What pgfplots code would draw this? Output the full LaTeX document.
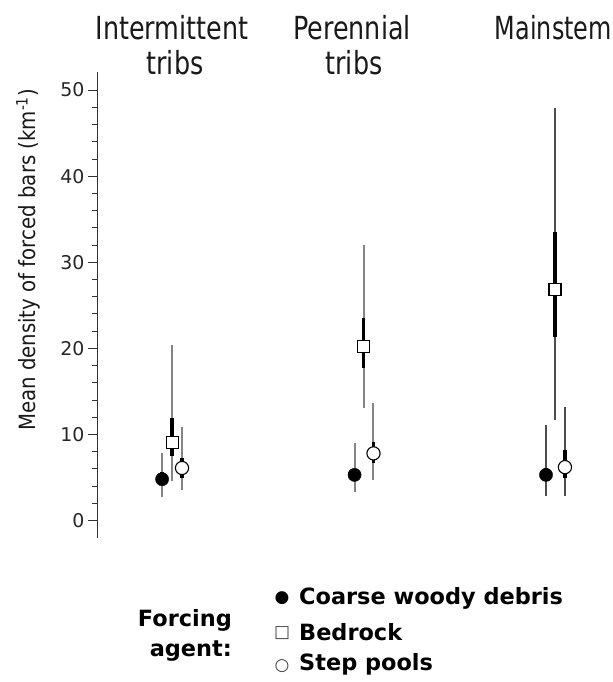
\documentclass[border=0pt]{standalone}
\usepackage{fontspec}
\setmainfont{DejaVu Sans}[FakeStretch=0.88]
\newfontfamily\legfont{DejaVu Sans}
\usepackage{pgfplots}
\pgfplotsset{compat=1.18}
\usepackage{pgfplotstable}

% x = group position (1 Intermittent, 2 Perennial, 3 Mainstem) + offset
% y = mean, lo/hi = thin whisker, tlo/thi = thick whisker
\pgfplotstableread{
x y lo hi tlo thi
0.948 4.8 2.7 7.8 4.2 5.6
1.953 5.3 3.3 9.0 4.6 6.0
2.953 5.3 2.8 11.1 4.6 6.1
}\cwd
\pgfplotstableread{
x y lo hi tlo thi
1.000 9.1 4.6 20.4 7.5 11.9
2.000 20.2 13.1 32.0 17.7 23.5
3.000 26.8 11.7 47.9 21.3 33.5
}\bedrock
\pgfplotstableread{
x y lo hi tlo thi
1.052 6.1 3.5 10.9 4.9 7.3
2.052 7.8 4.7 13.6 6.7 9.1
3.052 6.2 2.8 13.2 4.9 8.2
}\steppools

\pgfplotsset{
  thinbar/.style={only marks, mark=none,
    error bars/y dir=both, error bars/y explicit, error bars/error mark=none,
    error bars/error bar style={line width=2bp, black!48}},
  thinbarB/.style={only marks, mark=none,
    error bars/y dir=both, error bars/y explicit, error bars/error mark=none,
    error bars/error bar style={line width=1.2bp, black!70}},
  thickbar/.style={only marks, mark=none,
    error bars/y dir=both, error bars/y explicit, error bars/error mark=none,
    error bars/error bar style={line width=3.6bp, black}},
}

\begin{document}
\begin{tikzpicture}[x=1bp,y=1bp]
\useasboundingbox (0,0) rectangle (613,682);
\begin{axis}[
  at={(97bp,144bp)}, anchor=south west,
  width=516bp, height=466bp, scale only axis,
  xmin=0.608, xmax=3.303, ymin=-2.03, ymax=52.1,
  axis x line=none, axis y line*=left,
  axis line style={-, line width=0.9bp, black!80},
  ytick={0,10,20,30,40,50}, minor y tick num=4,
  tick align=outside,
  major tick length=9bp, minor tick length=5bp,
  every tick/.style={line width=0.8bp, black!80},
  yticklabel style={font=\legfont\fontsize{19}{22}\selectfont, black!85},
  /pgf/number format/assume math mode=true,
  clip=false,
]
% thin whiskers
\addplot[restrict x to domain=0:2.5, thinbar] table[x=x, y=y, y error plus expr=\thisrow{hi}-\thisrow{y}, y error minus expr=\thisrow{y}-\thisrow{lo}] {\cwd};
\addplot[restrict x to domain=0:2.5, thinbar] table[x=x, y=y, y error plus expr=\thisrow{hi}-\thisrow{y}, y error minus expr=\thisrow{y}-\thisrow{lo}] {\bedrock};
\addplot[restrict x to domain=0:2.5, thinbar] table[x=x, y=y, y error plus expr=\thisrow{hi}-\thisrow{y}, y error minus expr=\thisrow{y}-\thisrow{lo}] {\steppools};
\addplot[restrict x to domain=2.5:3.5, thinbarB] table[x=x, y=y, y error plus expr=\thisrow{hi}-\thisrow{y}, y error minus expr=\thisrow{y}-\thisrow{lo}] {\cwd};
\addplot[restrict x to domain=2.5:3.5, thinbarB] table[x=x, y=y, y error plus expr=\thisrow{hi}-\thisrow{y}, y error minus expr=\thisrow{y}-\thisrow{lo}] {\bedrock};
\addplot[restrict x to domain=2.5:3.5, thinbarB] table[x=x, y=y, y error plus expr=\thisrow{hi}-\thisrow{y}, y error minus expr=\thisrow{y}-\thisrow{lo}] {\steppools};
% thick whiskers
\addplot[thickbar] table[x=x, y=y, y error plus expr=\thisrow{thi}-\thisrow{y}, y error minus expr=\thisrow{y}-\thisrow{tlo}] {\cwd};
\addplot[thickbar] table[x=x, y=y, y error plus expr=\thisrow{thi}-\thisrow{y}, y error minus expr=\thisrow{y}-\thisrow{tlo}] {\bedrock};
\addplot[thickbar] table[x=x, y=y, y error plus expr=\thisrow{thi}-\thisrow{y}, y error minus expr=\thisrow{y}-\thisrow{tlo}] {\steppools};
% markers
\addplot[only marks, mark=*, mark size=6.6bp, mark options={fill=black, draw=black}] table[x=x, y=y] {\cwd};
\addplot[only marks, mark=square*, mark size=6bp, mark options={fill=white, draw=black, line width=1.1bp}] table[x=x, y=y] {\bedrock};
\addplot[only marks, mark=*, mark size=6.6bp, mark options={fill=white, draw=black, line width=1.1bp}] table[x=x, y=y] {\steppools};
\end{axis}

% column titles
\begin{scope}[every node/.style={inner sep=0pt, font=\fontsize{29}{35}\selectfont, text=black!90}]
\node[anchor=base] at (172,642.5) {\scalebox{1}[1.1]{Intermittent}};
\node[anchor=base] at (175,607) {\scalebox{1}[1.1]{tribs}};
\node[anchor=base] at (352,642.5) {\scalebox{1}[1.1]{Perennial}};
\node[anchor=base] at (354,607) {\scalebox{1}[1.1]{tribs}};
\node[anchor=base east] at (612,642.5) {\scalebox{0.94}[1.1]{Mainstem}};
\end{scope}

% y label
\node[rotate=90, inner sep=0pt, font=\fontsize{22.5}{26}\selectfont, text=black!90] at (28,422) {Mean density of forced bars (km\textsuperscript{-1})};

% legend
\begin{scope}[every node/.style={inner sep=0pt, font=\legfont\bfseries\fontsize{22.5}{26}\selectfont}]
\node[anchor=base east] at (232,55) {Forcing};
\node[anchor=base east] at (232,25) {agent:};
\node[anchor=center, font=\legfont\fontsize{17}{20}\selectfont] at (282,84) {●};
\node[anchor=center, font=\legfont\fontsize{17}{20}\selectfont, text=black!75] at (282,49) {□};
\node[anchor=center, font=\legfont\fontsize{17}{20}\selectfont, text=black!75] at (282,16) {○};
\node[anchor=base west] at (299,77) {Coarse woody debris};
\node[anchor=base west] at (299,41) {Bedrock};
\node[anchor=base west] at (299,11) {Step pools};
\end{scope}
\end{tikzpicture}
\end{document}
